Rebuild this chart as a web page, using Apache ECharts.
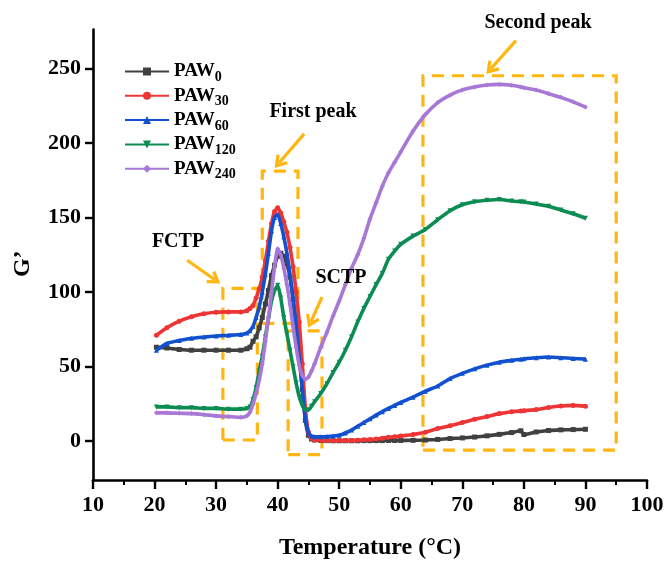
<!DOCTYPE html>
<html>
<head>
<meta charset="utf-8">
<script src="https://cdn.jsdelivr.net/npm/echarts@6/dist/echarts.min.js"></script>
<style>html,body{margin:0;padding:0;background:#fff}#chart{width:669px;height:562px}</style>
</head>
<body>
<div id="chart"></div>
<script>
// ---- data ----
const seriesNames = ['PAW0', 'PAW30', 'PAW60', 'PAW120', 'PAW240'];
const xTicks = [10, 20, 30, 40, 50, 60, 70, 80, 90, 100];
const yTicks = [0, 50, 100, 150, 200, 250];
const temps = [20.3, 22, 24, 26, 28, 30, 32, 34, 35, 35.5, 36, 36.5, 37, 37.5, 38, 38.5, 39, 39.5, 40, 40.5,
  41, 41.5, 42, 42.5, 43, 43.5, 44, 44.5, 45, 45.5, 46, 47, 48, 49, 50, 51, 52, 53, 54, 55,
  56, 57, 58, 59, 60, 62, 64, 66, 68, 70, 72, 74, 76, 78, 79.5, 80, 82, 84, 86, 88, 90];
const paw0 = [63, 62.5, 61.5, 61, 61, 61, 61, 61, 62, 63, 67, 70, 76, 83, 92, 101, 111, 118, 124, 126,
  124, 119, 110, 95, 78, 58, 35, 14, 4, 1.5, 0.8, 0.5, 0.4, 0.3, 0.3, 0.3, 0.3, 0.3, 0.4, 0.4,
  0.4, 0.4, 0.5, 0.5, 0.5, 0.6, 0.8, 1.2, 1.8, 2.2, 2.8, 3.6, 4.6, 5.8, 7, 4.5, 6.2, 7.2, 7.6, 7.8, 8];
const paw30 = [71, 76, 80.5, 83.5, 85.5, 86.5, 86.7, 86.7, 87.5, 89, 91, 96, 102, 110, 121, 134, 146, 154, 156.5, 153,
  147, 140, 130, 117, 100, 80, 52, 22, 6, 2, 1, 0.6, 0.5, 0.5, 0.5, 0.5, 0.5, 0.7, 0.9, 1.2,
  1.5, 2, 2.6, 3, 3.5, 4.5, 6, 8.5, 10.3, 12.5, 14.8, 16.5, 18.5, 19.8, 20.3, 20.5, 21.2, 22.6, 23.6, 24, 23.5];
const paw60 = [61, 65.5, 67.5, 69, 69.8, 70.5, 71, 71.5, 72.5, 74, 77, 83, 90, 100, 112, 126, 141, 150, 152, 146,
  137, 126, 112, 96, 77, 56, 35, 15, 6, 3.5, 3, 3, 3.2, 3.5, 4, 5.5, 7.5, 10, 12.5, 15,
  17.5, 19.8, 22, 24, 26, 29.5, 33.5, 37, 42, 45.5, 48.5, 51, 53, 54.2, 55, 55.2, 56, 56.5, 56, 55.5, 55];
const paw120 = [23, 23, 22.5, 22.5, 22, 22, 21.5, 21.5, 22, 23, 28, 36, 47, 57, 70, 82, 94, 101, 104.5, 96,
  83, 72, 61, 50, 39, 30, 24, 21, 21, 23.5, 26.5, 32, 38.5, 46, 53, 61, 70, 80, 89, 97,
  105, 112.5, 122, 127.5, 132, 137.5, 142, 148.5, 154.5, 158.5, 160.5, 161.5, 162, 161, 160.5, 160.3, 159, 157.5, 155, 152.5, 149.5];
const paw240 = [19, 19, 18.7, 18.5, 17.8, 17, 16.5, 16, 17, 19.5, 25, 32, 41, 52, 67, 83, 100, 117, 129, 125,
  116, 105, 92, 77, 63, 51, 44, 41.5, 43, 47, 52, 63, 73, 84, 94, 105, 116, 125, 136, 149,
  160, 171, 180, 187, 194, 208, 219, 227, 232, 235.5, 237.5, 238.8, 239.2, 238.6, 237.5, 237, 235.4, 233, 230.5, 227.5, 224];

// annotation boxes [xFrom, yFrom, xTo, yTo] in data units
const boxes = [[31.1, 0.8, 36.7, 102.5], [37.5, 79, 43.3, 181], [41.7, -9, 47.2, 74], [63.6, -6, 95, 245]];
// annotation arrows [xTail, yTail, xTip, yTip] in data units
const arrows = [[25.3, 121.3, 29.8, 108.2], [44.3, 206, 40.2, 186.5], [47.2, 96.6, 45.4, 80.1], [78.7, 268.5, 74.6, 249.5]];
const notes = ['FCTP', 'First peak', 'SCTP', 'Second peak'];

const colors = ['#404040', '#ee3535', '#1150cf', '#0c8c52', '#a878d6'];
const symbols = ['rect', 'circle', 'triangle', 'triangle', 'diamond'];
const rotations = [0, 0, 0, 180, 0];
const valueSets = [paw0, paw30, paw60, paw120, paw240];
const ORANGE = '#FFB611';
const FONT = '"Liberation Serif", "Times New Roman", serif';
const chevron = 'path://M5,0 L10,9 L8.2,10.4 L5,4.6 L1.8,10.4 L0,9 Z';

const chart = echarts.init(document.getElementById('chart'));

const series = seriesNames.map((name, k) => ({
  name: name,
  type: 'line',
  data: temps.map((t, i) => [t, valueSets[k][i]]),
  symbol: symbols[k],
  symbolRotate: rotations[k],
  symbolSize: 5,
  showSymbol: true,
  smooth: 0.2,
  lineStyle: { width: 3.6, color: colors[k] },
  itemStyle: { color: colors[k] },
  z: 3 + k,
  animation: false
}));

series.push({
  name: 'annot',
  type: 'line',
  data: [],
  silent: true,
  animation: false,
  markArea: {
    silent: true,
    itemStyle: { color: 'rgba(0,0,0,0)', borderColor: ORANGE, borderWidth: 3.2, borderType: [12, 8] },
    data: boxes.map(b => [{ coord: [b[0], b[1]] }, { coord: [b[2], b[3]] }])
  },
  markLine: {
    silent: true,
    symbol: ['none', chevron],
    symbolSize: [15, 13],
    label: { show: false },
    lineStyle: { color: ORANGE, width: 3.2, type: 'solid' },
    emphasis: { disabled: true },
    data: arrows.map(a => [{ coord: [a[0], a[1]] }, { coord: [a[2], a[3]] }])
  }
});

const notePos = [[178, 242], [313, 112], [341, 278], [538, 23]];

chart.setOption({
  animation: false,
  backgroundColor: '#fff',
  grid: { left: 93, right: 22, top: 29.5, bottom: 82, containLabel: false, outerBoundsMode: 'none' },
  legend: {
    data: seriesNames,
    orient: 'vertical',
    left: 119,
    top: 57,
    itemWidth: 44,
    itemHeight: 10,
    itemGap: 1.8,
    formatter: n => '{a|PAW}{s|' + n.slice(3) + '}',
    textStyle: {
      rich: {
        a: { fontFamily: FONT, fontWeight: 'bold', fontSize: 19, lineHeight: 26, color: '#000' },
        s: { fontFamily: FONT, fontWeight: 'bold', fontSize: 14, lineHeight: 10, verticalAlign: 'bottom', color: '#000' }
      }
    }
  },
  xAxis: {
    type: 'value',
    min: 10, max: 100, interval: 10,
    name: 'Temperature (°C)',
    nameLocation: 'middle',
    nameGap: 56,
    nameTextStyle: { fontFamily: FONT, fontWeight: 'bold', fontSize: 24, color: '#000' },
    axisLine: { show: true, onZero: false, lineStyle: { color: '#000', width: 2.6 } },
    axisTick: { show: true, inside: false, length: 9, lineStyle: { color: '#000', width: 2.4 } },
    minorTick: { show: true, splitNumber: 2, length: 5, lineStyle: { color: '#000', width: 2 } },
    axisLabel: { margin: 14, fontFamily: FONT, fontWeight: 'bold', fontSize: 22, color: '#000',
      customValues: xTicks },
    splitLine: { show: false }
  },
  yAxis: {
    type: 'value',
    min: -26, max: 276,
    name: 'G’',
    nameLocation: 'middle',
    nameGap: 58,
    nameRotate: 90,
    nameTextStyle: { fontFamily: FONT, fontWeight: 'bold', fontSize: 24, color: '#000', padding: [0, 18, 0, 0] },
    axisLine: { show: true, onZero: false, lineStyle: { color: '#000', width: 2.6 } },
    axisTick: { show: true, inside: false, length: 8, lineStyle: { color: '#000', width: 2.4 }, customValues: yTicks },
    axisLabel: { margin: 12, fontFamily: FONT, fontWeight: 'bold', fontSize: 22, color: '#000', customValues: yTicks },
    splitLine: { show: false }
  },
  graphic: notes.map((t, i) => ({
    type: 'text',
    x: notePos[i][0], y: notePos[i][1],
    style: { text: t, fontFamily: FONT, fontWeight: 'bold', fontSize: 20, fill: '#000', align: 'center', verticalAlign: 'middle' },
    z: 100
  })),
  series: series
});
</script>
</body>
</html>
